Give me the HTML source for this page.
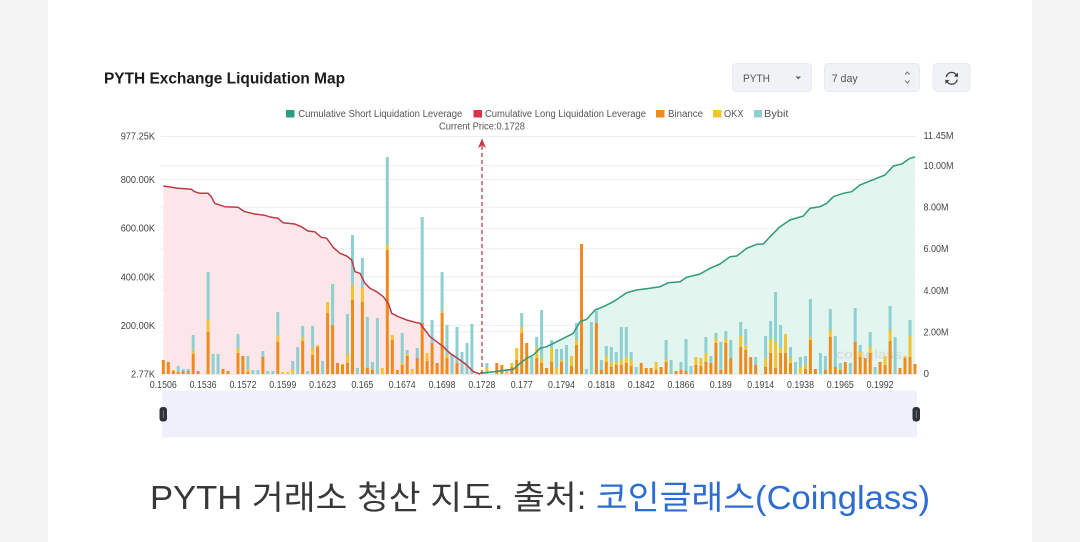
<!DOCTYPE html>
<html>
<head>
<meta charset="utf-8">
<style>
html,body{margin:0;padding:0;background:#fff;}
body{width:1080px;height:542px;overflow:hidden;}
svg{display:block;}
text{font-family:"Liberation Sans","Noto Sans CJK KR",sans-serif;}
</style>
</head>
<body>
<svg width="1080" height="542" viewBox="0 0 1080 542" xmlns="http://www.w3.org/2000/svg">
<rect x="0" y="0" width="1080" height="542" fill="#ffffff"/>
<rect x="0" y="0" width="48" height="542" fill="#f4f4f4"/>
<rect x="1032" y="0" width="48" height="542" fill="#f4f4f4"/>

<!-- Title -->
<text x="104" y="83.3" font-size="16" font-weight="bold" fill="#1b1b1b" textLength="241" lengthAdjust="spacingAndGlyphs">PYTH Exchange Liquidation Map</text>

<!-- Controls -->
<rect x="732.5" y="63.5" width="79" height="28" rx="4" fill="#f0f2f5" stroke="#e8eaee" stroke-width="1"/>
<text x="743" y="82" font-size="11" fill="#555" textLength="27" lengthAdjust="spacingAndGlyphs">PYTH</text>
<path d="M795.5 76.5 L801 76.5 L798.25 79.5 Z" fill="#666"/>
<rect x="824.5" y="63.5" width="95" height="28" rx="4" fill="#f0f2f5" stroke="#e8eaee" stroke-width="1"/>
<text x="831.7" y="82" font-size="11" fill="#555" textLength="26" lengthAdjust="spacingAndGlyphs">7 day</text>
<path d="M905 74.5 L907.3 72 L909.6 74.5 M905 80.5 L907.3 83 L909.6 80.5" fill="none" stroke="#777" stroke-width="1"/>
<rect x="933" y="63.5" width="37" height="28" rx="4" fill="#f0f2f5" stroke="#e8eaee" stroke-width="1"/>
<g fill="none" stroke="#444" stroke-width="1.4" stroke-linecap="round">
<path d="M946.3 76.5 A5.6 5.6 0 0 1 956.8 75.8"/>
<path d="M957.1 80.2 A5.6 5.6 0 0 1 946.6 80.9"/>
</g>
<path d="M957.9 72.6 L958.1 77 L953.9 76.4 Z" fill="#444"/>
<path d="M945.5 84 L945.3 79.6 L949.5 80.2 Z" fill="#444"/>

<!-- Legend -->
<rect x="286" y="110" width="8.5" height="7.5" fill="#2a9d80"/>
<text x="298.3" y="117" font-size="10" fill="#555" textLength="164" lengthAdjust="spacingAndGlyphs">Cumulative Short Liquidation Leverage</text>
<rect x="473.5" y="110" width="8.5" height="7.5" fill="#d9334a"/>
<text x="485" y="117" font-size="10" fill="#555" textLength="161" lengthAdjust="spacingAndGlyphs">Cumulative Long Liquidation Leverage</text>
<rect x="656" y="110" width="8.5" height="7.5" fill="#ef8a1e"/>
<text x="668" y="117" font-size="10" fill="#555" textLength="35" lengthAdjust="spacingAndGlyphs">Binance</text>
<rect x="713" y="110" width="8.5" height="7.5" fill="#f4c430"/>
<text x="724" y="117" font-size="10" fill="#555" textLength="19.5" lengthAdjust="spacingAndGlyphs">OKX</text>
<rect x="754" y="110" width="8" height="7.5" fill="#8ed0d1"/>
<text x="764" y="117" font-size="10" fill="#555" textLength="24.5" lengthAdjust="spacingAndGlyphs">Bybit</text>
<text x="439" y="129.3" font-size="10" fill="#555" textLength="86" lengthAdjust="spacingAndGlyphs">Current Price:0.1728</text>

<!-- Gridlines -->
<g stroke="#ededed" stroke-width="1">
<line x1="161" y1="136.5" x2="916" y2="136.5"/>
<line x1="161" y1="165.7" x2="916" y2="165.7"/>
<line x1="161" y1="179.5" x2="916" y2="179.5"/>
<line x1="161" y1="207.2" x2="916" y2="207.2"/>
<line x1="161" y1="228.2" x2="916" y2="228.2"/>
<line x1="161" y1="248.7" x2="916" y2="248.7"/>
<line x1="161" y1="276.8" x2="916" y2="276.8"/>
<line x1="161" y1="290.3" x2="916" y2="290.3"/>
<line x1="161" y1="325.4" x2="916" y2="325.4"/>
<line x1="161" y1="331.8" x2="916" y2="331.8"/>
</g>

<!-- Area fills -->
<polygon fill="#fce6e9" points="163.3,374 163.3,186 178,188.3 191.3,189.3 194.7,191.7 199.7,193.3 208,193.3 211.3,196.7 214.7,203.3 224.7,206.7 238,207.3 244.7,211.7 254.7,214 264.7,215.3 271.3,217.3 278,218.3 283,222.7 294.7,224 301.3,226.7 308,231 314.7,231.7 321.3,237.3 326.7,238.3 333.3,247.5 340,253.3 346.7,256 351.7,260 355,271.7 360,273.3 365,283.3 370,288.3 376.7,291.7 383.3,296.7 388.3,303.3 391.7,313.3 398.3,316.7 406.7,320 416.7,322.7 420,323.3 425,330 430,336.7 436.7,341.7 443.3,346.7 450,353.3 460,360 466.7,365 473.3,371.7 480,374"/>
<polygon fill="#e2f5ee" points="480,374 480,373.3 493.3,371.7 513.3,369.3 520,363.3 526.7,358.3 533.3,355 540,348.3 546.7,346.7 556.7,341.7 566.7,336.7 573.3,333.3 580,321.7 586.7,319.3 595,310 603.3,306.7 613.3,301.7 626.7,292.7 636.7,290 650,288.3 660,286.7 668.3,282.7 680,281.7 686.7,277.3 700,274 710,268.3 720,264 730,256.7 736.7,256 746.7,248.3 756.7,244.3 763.3,244 770,236.7 780,226.7 790,220 803.3,216 810,208.3 820,206.7 826.7,203.3 833.3,196.7 843.3,193.3 851.7,191.7 860,185 868.3,181.7 876.7,178.3 885,175 893.3,166 901.7,164 910,158.3 915,157 915,374"/>

<!-- baseline -->
<line x1="161" y1="374.2" x2="916" y2="374.2" stroke="#e6e6e6" stroke-width="1"/>

<!-- watermark -->
<text x="836" y="359" font-size="14" font-weight="bold" fill="#d6d6d6" opacity="0.7" textLength="66" lengthAdjust="spacingAndGlyphs">coinglass</text>

<!-- Binance bars -->
<g fill="#ef8a1e">
<rect x="161.8" y="360" width="3" height="14"/>
<rect x="166.8" y="362" width="3" height="12"/>
<rect x="171.8" y="371" width="3" height="3"/>
<rect x="176.7" y="372" width="3" height="2"/>
<rect x="181.7" y="371" width="3" height="3"/>
<rect x="186.7" y="371" width="3" height="3"/>
<rect x="191.7" y="354" width="3" height="20"/>
<rect x="196.6" y="371" width="3" height="3"/>
<rect x="206.6" y="332" width="3" height="42"/>
<rect x="221.5" y="369" width="3" height="5"/>
<rect x="226.5" y="371" width="3" height="3"/>
<rect x="236.5" y="353" width="3" height="21"/>
<rect x="241.4" y="356" width="3" height="18"/>
<rect x="246.4" y="372" width="3" height="2"/>
<rect x="261.4" y="357" width="3" height="17"/>
<rect x="276.3" y="342" width="3" height="32"/>
<rect x="301.2" y="341" width="3" height="33"/>
<rect x="311.1" y="355" width="3" height="19"/>
<rect x="316.1" y="347" width="3" height="27"/>
<rect x="326.1" y="313" width="3" height="61"/>
<rect x="331.1" y="325" width="3" height="49"/>
<rect x="336.0" y="363" width="3" height="11"/>
<rect x="341.0" y="365" width="3" height="9"/>
<rect x="346.0" y="363" width="3" height="11"/>
<rect x="351.0" y="300" width="3" height="74"/>
<rect x="360.9" y="302" width="3" height="72"/>
<rect x="365.9" y="368" width="3" height="6"/>
<rect x="370.9" y="370" width="3" height="4"/>
<rect x="385.8" y="250" width="3" height="124"/>
<rect x="390.8" y="340" width="3" height="34"/>
<rect x="395.8" y="370" width="3" height="4"/>
<rect x="400.7" y="365" width="3" height="9"/>
<rect x="405.7" y="356" width="3" height="18"/>
<rect x="415.7" y="358" width="3" height="16"/>
<rect x="420.7" y="323" width="3" height="51"/>
<rect x="425.6" y="361" width="3" height="13"/>
<rect x="430.6" y="343" width="3" height="31"/>
<rect x="435.6" y="363" width="3" height="11"/>
<rect x="440.6" y="313" width="3" height="61"/>
<rect x="445.5" y="358" width="3" height="16"/>
<rect x="455.5" y="363" width="3" height="11"/>
<rect x="480.4" y="372" width="3" height="2"/>
<rect x="495.3" y="363" width="3" height="11"/>
<rect x="500.3" y="365" width="3" height="9"/>
<rect x="510.3" y="367" width="3" height="7"/>
<rect x="515.2" y="360" width="3" height="14"/>
<rect x="520.2" y="333" width="3" height="41"/>
<rect x="525.2" y="343" width="3" height="31"/>
<rect x="535.2" y="358" width="3" height="16"/>
<rect x="540.1" y="363" width="3" height="11"/>
<rect x="545.1" y="368" width="3" height="6"/>
<rect x="550.1" y="362" width="3" height="12"/>
<rect x="560.0" y="362" width="3" height="12"/>
<rect x="570.0" y="366" width="3" height="8"/>
<rect x="575.0" y="345" width="3" height="29"/>
<rect x="580.0" y="244" width="3" height="130"/>
<rect x="594.9" y="323" width="3" height="51"/>
<rect x="599.9" y="370" width="3" height="4"/>
<rect x="604.8" y="362" width="3" height="12"/>
<rect x="609.8" y="367" width="3" height="7"/>
<rect x="614.8" y="365" width="3" height="9"/>
<rect x="619.8" y="365" width="3" height="9"/>
<rect x="624.8" y="363" width="3" height="11"/>
<rect x="629.7" y="366" width="3" height="8"/>
<rect x="639.7" y="363" width="3" height="11"/>
<rect x="644.7" y="368" width="3" height="6"/>
<rect x="649.6" y="368" width="3" height="6"/>
<rect x="654.6" y="370" width="3" height="4"/>
<rect x="659.6" y="367" width="3" height="7"/>
<rect x="664.6" y="362" width="3" height="12"/>
<rect x="674.5" y="371" width="3" height="3"/>
<rect x="679.5" y="370" width="3" height="4"/>
<rect x="684.5" y="371" width="3" height="3"/>
<rect x="694.4" y="365" width="3" height="9"/>
<rect x="699.4" y="366" width="3" height="8"/>
<rect x="704.4" y="362" width="3" height="12"/>
<rect x="709.4" y="363" width="3" height="11"/>
<rect x="714.4" y="343" width="3" height="31"/>
<rect x="719.3" y="370" width="3" height="4"/>
<rect x="724.3" y="343" width="3" height="31"/>
<rect x="729.3" y="358" width="3" height="16"/>
<rect x="739.2" y="347" width="3" height="27"/>
<rect x="744.2" y="350" width="3" height="24"/>
<rect x="749.2" y="357" width="3" height="17"/>
<rect x="754.2" y="365" width="3" height="9"/>
<rect x="764.1" y="367" width="3" height="7"/>
<rect x="769.1" y="353" width="3" height="21"/>
<rect x="774.1" y="368" width="3" height="6"/>
<rect x="779.1" y="353" width="3" height="21"/>
<rect x="784.0" y="353" width="3" height="21"/>
<rect x="789.0" y="363" width="3" height="11"/>
<rect x="804.0" y="369" width="3" height="5"/>
<rect x="808.9" y="340" width="3" height="34"/>
<rect x="813.9" y="369" width="3" height="5"/>
<rect x="823.9" y="370" width="3" height="4"/>
<rect x="828.8" y="337" width="3" height="37"/>
<rect x="833.8" y="367" width="3" height="7"/>
<rect x="838.8" y="370" width="3" height="4"/>
<rect x="843.8" y="362" width="3" height="12"/>
<rect x="853.7" y="342" width="3" height="32"/>
<rect x="858.7" y="357" width="3" height="17"/>
<rect x="863.7" y="358" width="3" height="16"/>
<rect x="868.7" y="353" width="3" height="21"/>
<rect x="878.6" y="362" width="3" height="12"/>
<rect x="883.6" y="365" width="3" height="9"/>
<rect x="888.6" y="341" width="3" height="33"/>
<rect x="898.5" y="368" width="3" height="6"/>
<rect x="903.5" y="358" width="3" height="16"/>
<rect x="908.5" y="357" width="3" height="17"/>
<rect x="913.5" y="364" width="3" height="10"/>
</g>

<!-- OKX bars -->
<g fill="#f4c430">
<rect x="171.8" y="370" width="3" height="1"/>
<rect x="191.7" y="350" width="3" height="4"/>
<rect x="206.6" y="320" width="3" height="12"/>
<rect x="236.5" y="349" width="3" height="4"/>
<rect x="246.4" y="369" width="3" height="3"/>
<rect x="276.3" y="335" width="3" height="7"/>
<rect x="281.3" y="372" width="3" height="2"/>
<rect x="286.3" y="372" width="3" height="2"/>
<rect x="291.2" y="370" width="3" height="4"/>
<rect x="301.2" y="337" width="3" height="4"/>
<rect x="311.1" y="348" width="3" height="7"/>
<rect x="316.1" y="345" width="3" height="2"/>
<rect x="326.1" y="302" width="3" height="11"/>
<rect x="341.0" y="364" width="3" height="1"/>
<rect x="346.0" y="354" width="3" height="9"/>
<rect x="351.0" y="285" width="3" height="15"/>
<rect x="360.9" y="288" width="3" height="14"/>
<rect x="365.9" y="367" width="3" height="1"/>
<rect x="380.8" y="368" width="3" height="6"/>
<rect x="385.8" y="245" width="3" height="5"/>
<rect x="390.8" y="335" width="3" height="5"/>
<rect x="400.7" y="363" width="3" height="2"/>
<rect x="405.7" y="354" width="3" height="2"/>
<rect x="410.7" y="369" width="3" height="5"/>
<rect x="425.6" y="353" width="3" height="8"/>
<rect x="440.6" y="311" width="3" height="2"/>
<rect x="445.5" y="355" width="3" height="3"/>
<rect x="485.4" y="368" width="3" height="6"/>
<rect x="505.3" y="369" width="3" height="5"/>
<rect x="510.3" y="363" width="3" height="4"/>
<rect x="515.2" y="348" width="3" height="12"/>
<rect x="520.2" y="327" width="3" height="6"/>
<rect x="535.2" y="348" width="3" height="10"/>
<rect x="540.1" y="358" width="3" height="5"/>
<rect x="550.1" y="348" width="3" height="14"/>
<rect x="555.1" y="368" width="3" height="6"/>
<rect x="560.0" y="360" width="3" height="2"/>
<rect x="570.0" y="356" width="3" height="10"/>
<rect x="575.0" y="340" width="3" height="5"/>
<rect x="604.8" y="356" width="3" height="6"/>
<rect x="609.8" y="362" width="3" height="5"/>
<rect x="614.8" y="362" width="3" height="3"/>
<rect x="619.8" y="360" width="3" height="5"/>
<rect x="624.8" y="357" width="3" height="6"/>
<rect x="629.7" y="360" width="3" height="6"/>
<rect x="654.6" y="362" width="3" height="8"/>
<rect x="664.6" y="359" width="3" height="3"/>
<rect x="694.4" y="357" width="3" height="8"/>
<rect x="699.4" y="358" width="3" height="8"/>
<rect x="704.4" y="353" width="3" height="9"/>
<rect x="714.4" y="338" width="3" height="5"/>
<rect x="724.3" y="338" width="3" height="5"/>
<rect x="739.2" y="336" width="3" height="11"/>
<rect x="744.2" y="345" width="3" height="5"/>
<rect x="764.1" y="358" width="3" height="9"/>
<rect x="769.1" y="340" width="3" height="13"/>
<rect x="774.1" y="342" width="3" height="26"/>
<rect x="779.1" y="348" width="3" height="5"/>
<rect x="784.0" y="334" width="3" height="19"/>
<rect x="789.0" y="358" width="3" height="5"/>
<rect x="798.9" y="367" width="3" height="7"/>
<rect x="804.0" y="365" width="3" height="4"/>
<rect x="808.9" y="337" width="3" height="3"/>
<rect x="828.8" y="330" width="3" height="7"/>
<rect x="858.7" y="352" width="3" height="5"/>
<rect x="868.7" y="347" width="3" height="6"/>
<rect x="883.6" y="356" width="3" height="9"/>
<rect x="888.6" y="330" width="3" height="11"/>
<rect x="903.5" y="356" width="3" height="2"/>
<rect x="908.5" y="336" width="3" height="21"/>
</g>

<!-- Bybit bars -->
<g fill="#8ed0d1">
<rect x="176.7" y="366" width="3" height="6"/>
<rect x="181.7" y="369" width="3" height="2"/>
<rect x="186.7" y="369" width="3" height="2"/>
<rect x="191.7" y="335" width="3" height="15"/>
<rect x="206.6" y="272" width="3" height="48"/>
<rect x="211.6" y="354" width="3" height="20"/>
<rect x="216.6" y="354" width="3" height="20"/>
<rect x="236.5" y="334" width="3" height="15"/>
<rect x="246.4" y="356" width="3" height="13"/>
<rect x="251.4" y="370" width="3" height="4"/>
<rect x="256.4" y="370" width="3" height="4"/>
<rect x="261.4" y="351" width="3" height="6"/>
<rect x="266.3" y="371" width="3" height="3"/>
<rect x="271.3" y="371" width="3" height="3"/>
<rect x="276.3" y="312" width="3" height="23"/>
<rect x="291.2" y="361" width="3" height="9"/>
<rect x="296.2" y="347" width="3" height="27"/>
<rect x="301.2" y="326" width="3" height="11"/>
<rect x="306.2" y="371" width="3" height="3"/>
<rect x="311.1" y="326" width="3" height="22"/>
<rect x="321.1" y="361" width="3" height="13"/>
<rect x="331.1" y="284" width="3" height="41"/>
<rect x="346.0" y="314" width="3" height="40"/>
<rect x="351.0" y="235" width="3" height="50"/>
<rect x="355.9" y="368" width="3" height="6"/>
<rect x="360.9" y="258" width="3" height="30"/>
<rect x="365.9" y="317" width="3" height="50"/>
<rect x="370.9" y="362" width="3" height="8"/>
<rect x="375.9" y="318" width="3" height="56"/>
<rect x="385.8" y="157" width="3" height="88"/>
<rect x="400.7" y="333" width="3" height="30"/>
<rect x="405.7" y="350" width="3" height="4"/>
<rect x="415.7" y="348" width="3" height="10"/>
<rect x="420.7" y="217" width="3" height="106"/>
<rect x="430.6" y="320" width="3" height="23"/>
<rect x="440.6" y="272" width="3" height="39"/>
<rect x="445.5" y="325" width="3" height="30"/>
<rect x="450.5" y="354" width="3" height="20"/>
<rect x="455.5" y="327" width="3" height="36"/>
<rect x="460.5" y="352" width="3" height="22"/>
<rect x="465.5" y="343" width="3" height="31"/>
<rect x="470.4" y="324" width="3" height="50"/>
<rect x="485.4" y="363" width="3" height="5"/>
<rect x="520.2" y="313" width="3" height="14"/>
<rect x="530.2" y="357" width="3" height="17"/>
<rect x="535.2" y="337" width="3" height="11"/>
<rect x="540.1" y="310" width="3" height="48"/>
<rect x="550.1" y="340" width="3" height="8"/>
<rect x="555.1" y="349" width="3" height="19"/>
<rect x="560.0" y="349" width="3" height="11"/>
<rect x="565.0" y="345" width="3" height="29"/>
<rect x="575.0" y="323" width="3" height="17"/>
<rect x="584.9" y="369" width="3" height="5"/>
<rect x="589.9" y="322" width="3" height="52"/>
<rect x="594.9" y="311" width="3" height="12"/>
<rect x="599.9" y="360" width="3" height="10"/>
<rect x="604.8" y="346" width="3" height="10"/>
<rect x="609.8" y="347" width="3" height="15"/>
<rect x="614.8" y="352" width="3" height="10"/>
<rect x="619.8" y="327" width="3" height="33"/>
<rect x="624.8" y="327" width="3" height="30"/>
<rect x="629.7" y="352" width="3" height="8"/>
<rect x="634.7" y="367" width="3" height="7"/>
<rect x="664.6" y="340" width="3" height="19"/>
<rect x="669.6" y="360" width="3" height="14"/>
<rect x="679.5" y="362" width="3" height="8"/>
<rect x="684.5" y="339" width="3" height="32"/>
<rect x="689.5" y="366" width="3" height="8"/>
<rect x="704.4" y="337" width="3" height="16"/>
<rect x="709.4" y="356" width="3" height="7"/>
<rect x="714.4" y="333" width="3" height="5"/>
<rect x="719.3" y="342" width="3" height="28"/>
<rect x="724.3" y="331" width="3" height="7"/>
<rect x="729.3" y="340" width="3" height="18"/>
<rect x="739.2" y="322" width="3" height="14"/>
<rect x="744.2" y="329" width="3" height="16"/>
<rect x="754.2" y="357" width="3" height="8"/>
<rect x="764.1" y="336" width="3" height="22"/>
<rect x="769.1" y="321" width="3" height="19"/>
<rect x="774.1" y="292" width="3" height="50"/>
<rect x="779.1" y="325" width="3" height="23"/>
<rect x="789.0" y="347" width="3" height="11"/>
<rect x="794.0" y="362" width="3" height="12"/>
<rect x="798.9" y="357" width="3" height="10"/>
<rect x="804.0" y="356" width="3" height="9"/>
<rect x="808.9" y="299" width="3" height="38"/>
<rect x="818.9" y="353" width="3" height="21"/>
<rect x="823.9" y="356" width="3" height="14"/>
<rect x="828.8" y="309" width="3" height="21"/>
<rect x="833.8" y="336" width="3" height="31"/>
<rect x="838.8" y="363" width="3" height="7"/>
<rect x="848.8" y="363" width="3" height="11"/>
<rect x="853.7" y="308" width="3" height="34"/>
<rect x="858.7" y="345" width="3" height="7"/>
<rect x="868.7" y="332" width="3" height="15"/>
<rect x="873.6" y="367" width="3" height="7"/>
<rect x="888.6" y="306" width="3" height="24"/>
<rect x="893.6" y="337" width="3" height="37"/>
<rect x="908.5" y="320" width="3" height="16"/>
</g>

<!-- Lines -->
<polyline fill="none" stroke="#b83c48" stroke-width="1.5" stroke-linejoin="round" points="163.3,186 178,188.3 191.3,189.3 194.7,191.7 199.7,193.3 208,193.3 211.3,196.7 214.7,203.3 224.7,206.7 238,207.3 244.7,211.7 254.7,214 264.7,215.3 271.3,217.3 278,218.3 283,222.7 294.7,224 301.3,226.7 308,231 314.7,231.7 321.3,237.3 326.7,238.3 333.3,247.5 340,253.3 346.7,256 351.7,260 355,271.7 360,273.3 365,283.3 370,288.3 376.7,291.7 383.3,296.7 388.3,303.3 391.7,313.3 398.3,316.7 406.7,320 416.7,322.7 420,323.3 425,330 430,336.7 436.7,341.7 443.3,346.7 450,353.3 460,360 466.7,365 473.3,371.7 480,374"/>
<polyline fill="none" stroke="#2e9b7b" stroke-width="1.5" stroke-linejoin="round" points="480,373.3 493.3,371.7 513.3,369.3 520,363.3 526.7,358.3 533.3,355 540,348.3 546.7,346.7 556.7,341.7 566.7,336.7 573.3,333.3 580,321.7 586.7,319.3 595,310 603.3,306.7 613.3,301.7 626.7,292.7 636.7,290 650,288.3 660,286.7 668.3,282.7 680,281.7 686.7,277.3 700,274 710,268.3 720,264 730,256.7 736.7,256 746.7,248.3 756.7,244.3 763.3,244 770,236.7 780,226.7 790,220 803.3,216 810,208.3 820,206.7 826.7,203.3 833.3,196.7 843.3,193.3 851.7,191.7 860,185 868.3,181.7 876.7,178.3 885,175 893.3,166 901.7,164 910,158.3 915,157"/>

<!-- Current price marker -->
<line x1="482" y1="146" x2="482" y2="374" stroke="#c23a46" stroke-width="1.3" stroke-dasharray="4,3"/>
<path d="M478 148 L482 138.5 L486 148 L482 145.5 Z" fill="#c23a46"/>

<!-- Left axis labels -->
<g font-size="10" fill="#444">
<text x="120.7" y="139.5" textLength="34.3" lengthAdjust="spacingAndGlyphs">977.25K</text>
<text x="120.7" y="183" textLength="34.3" lengthAdjust="spacingAndGlyphs">800.00K</text>
<text x="120.7" y="231.7" textLength="34.3" lengthAdjust="spacingAndGlyphs">600.00K</text>
<text x="120.7" y="280.3" textLength="34.3" lengthAdjust="spacingAndGlyphs">400.00K</text>
<text x="120.7" y="329" textLength="34.3" lengthAdjust="spacingAndGlyphs">200.00K</text>
<text x="131" y="377.5" textLength="24" lengthAdjust="spacingAndGlyphs">2.77K</text>
</g>
<!-- Right axis labels -->
<g font-size="10" fill="#444">
<text x="923.5" y="139" textLength="30" lengthAdjust="spacingAndGlyphs">11.45M</text>
<text x="923.5" y="169.2" textLength="30" lengthAdjust="spacingAndGlyphs">10.00M</text>
<text x="923.5" y="210.7" textLength="25" lengthAdjust="spacingAndGlyphs">8.00M</text>
<text x="923.5" y="252.2" textLength="25" lengthAdjust="spacingAndGlyphs">6.00M</text>
<text x="923.5" y="293.8" textLength="25" lengthAdjust="spacingAndGlyphs">4.00M</text>
<text x="923.5" y="335.3" textLength="25" lengthAdjust="spacingAndGlyphs">2.00M</text>
<text x="923.5" y="376.8" textLength="5.5" lengthAdjust="spacingAndGlyphs">0</text>
</g>
<!-- X axis labels -->
<g font-size="10" fill="#444" text-anchor="middle">
<text x="163.3" y="388" textLength="27" lengthAdjust="spacingAndGlyphs">0.1506</text>
<text x="203.1" y="388" textLength="27" lengthAdjust="spacingAndGlyphs">0.1536</text>
<text x="243.0" y="388" textLength="27" lengthAdjust="spacingAndGlyphs">0.1572</text>
<text x="282.8" y="388" textLength="27" lengthAdjust="spacingAndGlyphs">0.1599</text>
<text x="322.6" y="388" textLength="27" lengthAdjust="spacingAndGlyphs">0.1623</text>
<text x="362.4" y="388" textLength="22" lengthAdjust="spacingAndGlyphs">0.165</text>
<text x="402.2" y="388" textLength="27" lengthAdjust="spacingAndGlyphs">0.1674</text>
<text x="442.1" y="388" textLength="27" lengthAdjust="spacingAndGlyphs">0.1698</text>
<text x="481.9" y="388" textLength="27" lengthAdjust="spacingAndGlyphs">0.1728</text>
<text x="521.7" y="388" textLength="22" lengthAdjust="spacingAndGlyphs">0.177</text>
<text x="561.5" y="388" textLength="27" lengthAdjust="spacingAndGlyphs">0.1794</text>
<text x="601.4" y="388" textLength="27" lengthAdjust="spacingAndGlyphs">0.1818</text>
<text x="641.2" y="388" textLength="27" lengthAdjust="spacingAndGlyphs">0.1842</text>
<text x="681.0" y="388" textLength="27" lengthAdjust="spacingAndGlyphs">0.1866</text>
<text x="720.8" y="388" textLength="22" lengthAdjust="spacingAndGlyphs">0.189</text>
<text x="760.7" y="388" textLength="27" lengthAdjust="spacingAndGlyphs">0.1914</text>
<text x="800.5" y="388" textLength="27" lengthAdjust="spacingAndGlyphs">0.1938</text>
<text x="840.3" y="388" textLength="27" lengthAdjust="spacingAndGlyphs">0.1965</text>
<text x="880.1" y="388" textLength="27" lengthAdjust="spacingAndGlyphs">0.1992</text>
</g>

<!-- Data zoom slider -->
<rect x="162" y="390.5" width="755" height="47" fill="#eef1fb"/>
<rect x="159.5" y="407" width="7.5" height="14.5" rx="3" fill="#2d3138"/>
<line x1="163.25" y1="410.5" x2="163.25" y2="418" stroke="#8a8f98" stroke-width="0.8"/>
<rect x="912.5" y="407" width="7.5" height="14.5" rx="3" fill="#2d3138"/>
<line x1="916.25" y1="410.5" x2="916.25" y2="418" stroke="#8a8f98" stroke-width="0.8"/>

<!-- Caption -->
<text x="150" y="509" font-size="33" fill="#383838" textLength="780" lengthAdjust="spacingAndGlyphs">PYTH 거래소 청산 지도. 출처: <tspan fill="#2d6cd0">코인글래스(Coinglass)</tspan></text>
</svg>
</body>
</html>
